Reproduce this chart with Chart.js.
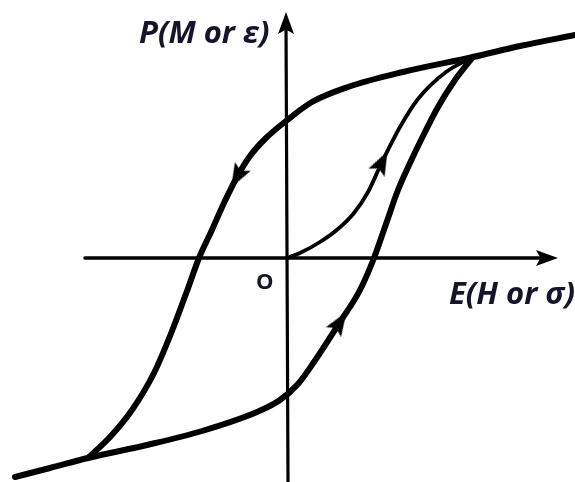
<!DOCTYPE html>
<html>
<head>
<meta charset="utf-8">
<title>Hysteresis loop</title>
<script src="https://cdn.jsdelivr.net/npm/chart.js@4.4.1/dist/chart.umd.min.js"></script>
<style>
  html, body { margin: 0; padding: 0; background: #fff; }
  #wrap { width: 575px; height: 482px; position: relative; }
</style>
</head>
<body>
<div id="wrap"><canvas id="loop"></canvas></div>
<script>
// ── Loop data: field on x, polarization on y, origin at (0, 0) ──
// descending branch: from saturation (+) down to the lower-left tip
const descX = [2.88, 2.33, 1.86, 1.16, 0.61, 0.25, -0.01, -0.21, -0.37, -0.50, -0.63, -0.76, -0.88, -1.00, -1.15, -1.33, -1.55, -1.77, -1.99];
const descY = [2.23, 2.12, 2.01, 1.86, 1.71, 1.56, 1.37, 1.20, 1.02, 0.81, 0.55, 0.26, 0.00, -0.33, -0.73, -1.15, -1.52, -1.79, -2.00];

// ascending branch: from saturation (−) up to the upper-right tip
const ascX = [-2.72, -2.37, -1.99, -1.40, -0.85, -0.30, -0.07, 0.11, 0.27, 0.53, 0.73, 0.87, 0.99, 1.11, 1.23, 1.35, 1.51, 1.68, 1.86];
const ascY = [-2.19, -2.10, -2.00, -1.87, -1.73, -1.54, -1.42, -1.26, -1.04, -0.64, -0.32, 0.00, 0.34, 0.68, 0.95, 1.20, 1.51, 1.78, 2.01];

// initial (virgin) curve from the origin
const initX = [0, 0.13, 0.33, 0.51, 0.67, 0.81, 0.95, 1.13, 1.31, 1.59, 1.86];
const initY = [0, 0.05, 0.16, 0.29, 0.45, 0.66, 0.96, 1.31, 1.59, 1.86, 2.01];

// axes
const xAxisX = [-2.02, 2.60];
const xAxisY = [0, 0];
const yAxisX = [0.01, -0.01];
const yAxisY = [-2.24, 2.35];

// direction arrows: point index on each curve + heading (deg, clockwise from up)
const descArrow = { at: 9, angle: 209 };
const ascArrow  = { at: 9, angle: 33 };
const initArrow = { at: 6, angle: 27 };

const labelText = ["P(M or \u03b5)", "E(H or \u03c3)", "O"];

// ── helpers ──────────────────────────────────────────────
const pts = (xs, ys) => xs.map((x, i) => ({ x, y: ys[i] }));

function arrowHead(w, h) {
  const c = document.createElement("canvas");
  c.width = w; c.height = h;
  const g = c.getContext("2d");
  g.fillStyle = "#000";
  g.beginPath();
  g.moveTo(w / 2, 0);
  g.lineTo(w, h);
  g.lineTo(w / 2, h * 0.8);
  g.lineTo(0, h);
  g.closePath();
  g.fill();
  return c;
}
const curveHead = arrowHead(18, 24);
const axisHead  = arrowHead(16, 22);

function marks(n, arrow) {
  return {
    pointRadius: Array.from({ length: n }, (_, i) => (i === arrow.at ? 6 : 0)),
    pointRotation: Array.from({ length: n }, () => arrow.angle),
  };
}

function curve(xs, ys, width, arrow, head) {
  const ds = {
    data: pts(xs, ys),
    showLine: true,
    borderColor: "#000",
    backgroundColor: "#000",
    borderWidth: width,
    borderCapStyle: "round",
    borderJoinStyle: "round",
    cubicInterpolationMode: "monotone",
    pointStyle: head,
    pointHoverRadius: 0,
    pointRadius: 0,
  };
  if (arrow) Object.assign(ds, marks(xs.length, arrow));
  return ds;
}

// ── Axis labels ──────────────────────────────────────────
const labelPlugin = {
  id: "loopLabels",
  afterDatasetsDraw(chart) {
    const ctx = chart.ctx;
    ctx.save();
    ctx.fillStyle = "#14142a";
    ctx.textBaseline = "alphabetic";
    ctx.textAlign = "left";
    ctx.font = "italic bold 31px 'Open Sans', sans-serif";
    ctx.fillText(labelText[0], 139, 43);
    ctx.fillText(labelText[1], 449, 304);
    ctx.font = "bold 22px 'Open Sans', sans-serif";
    ctx.fillText(labelText[2], 256, 289);
    ctx.restore();
  }
};

// ── Chart ────────────────────────────────────────────────
new Chart(document.getElementById("loop"), {
  type: "scatter",
  data: {
    datasets: [
      curve(xAxisX, xAxisY, 3.5, { at: 1, angle: 90 }, axisHead),
      curve(yAxisX, yAxisY, 3.2, { at: 1, angle: 0 }, axisHead),
      curve(descX, descY, 6, descArrow, curveHead),
      curve(ascX, ascY, 6, ascArrow, curveHead),
      curve(initX, initY, 3.8, initArrow, curveHead),
    ]
  },
  options: {
    responsive: true,
    maintainAspectRatio: false,
    animation: false,
    events: [],
    layout: { padding: 0, autoPadding: false },
    plugins: { legend: { display: false }, tooltip: { enabled: false } },
    scales: {
      x: { type: "linear", min: -2.87, max: 2.88, display: false },
      y: { type: "linear", min: -2.24, max: 2.58, display: false }
    }
  },
  plugins: [labelPlugin]
});
</script>
</body>
</html>
